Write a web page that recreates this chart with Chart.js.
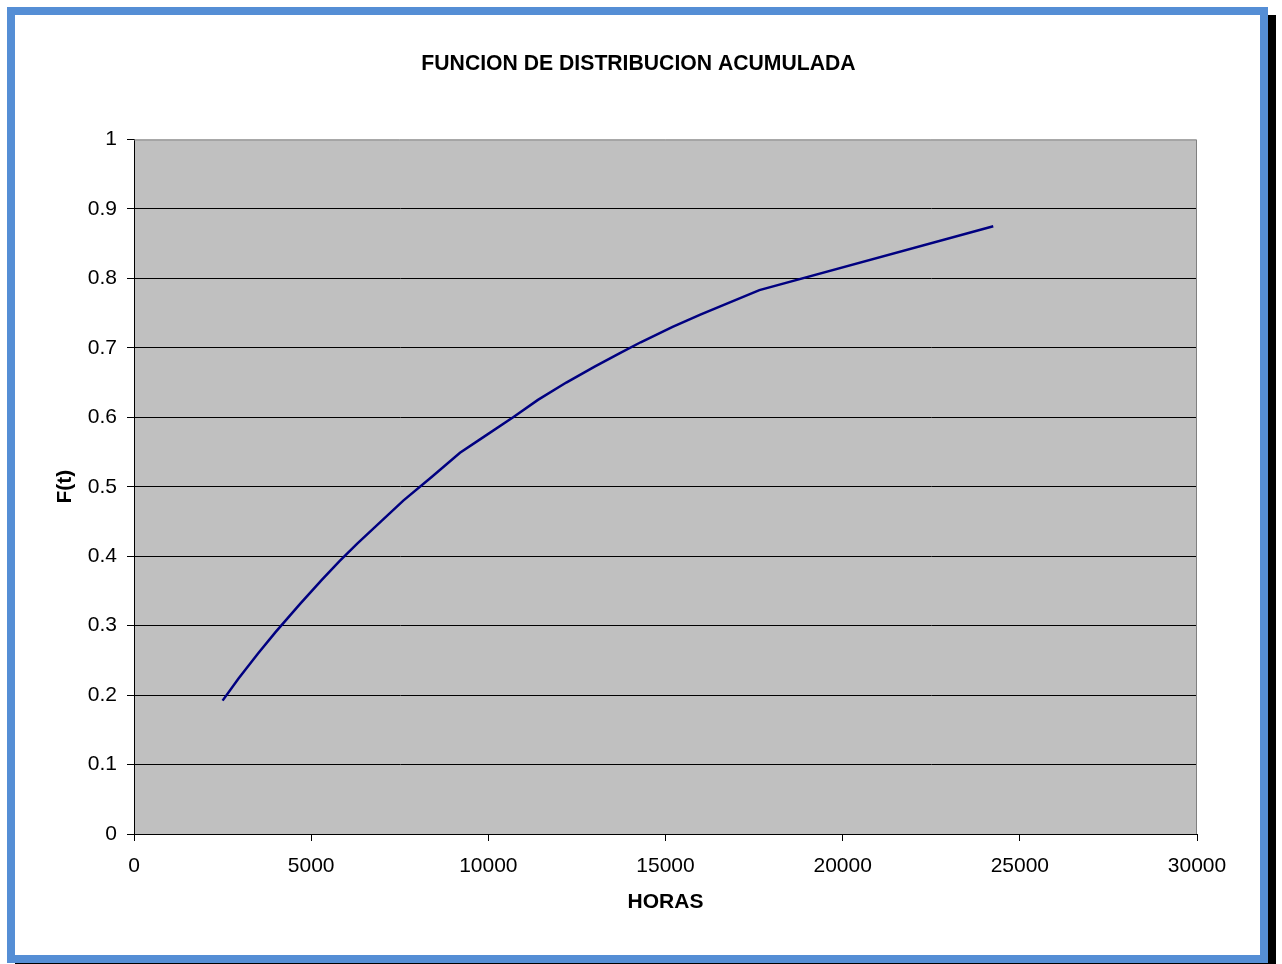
<!DOCTYPE html>
<html>
<head>
<meta charset="utf-8">
<title>FUNCION DE DISTRIBUCION ACUMULADA</title>
<script src="https://cdn.jsdelivr.net/npm/chart.js@4.4.1/dist/chart.umd.min.js"></script>
<style>
  html, body { margin: 0; padding: 0; background: #ffffff; }
  #wrap { position: relative; width: 1282px; height: 964px; overflow: hidden; }
  #frame {
    position: absolute; left: 7px; top: 7px;
    width: 1245px; height: 940px;
    border: 8px solid #558ed5;
    box-shadow: 8px 8px 0 #000000;
    background: #ffffff;
  }
  #chart { position: absolute; left: 0; top: 0; }
</style>
</head>
<body>
<div id="wrap">
  <div id="frame"></div>
  <canvas id="chart" width="1282" height="964"></canvas>
</div>
<script>
// Operating hours and the cumulative failure probability F(t) at each
const horas = [2500, 2950, 3500, 4000, 4700, 5300, 5800, 6300, 6950, 7600, 8400, 9200,
               9850, 10700, 11400, 12200, 13000, 13700, 14300, 15200, 16000, 16800, 17650, 24250];
const ft    = [0.192, 0.224, 0.260, 0.291, 0.332, 0.366, 0.393, 0.418, 0.449, 0.480, 0.514, 0.549,
               0.571, 0.600, 0.625, 0.650, 0.673, 0.692, 0.708, 0.730, 0.748, 0.765, 0.783, 0.875];

// Axis ticks
const xTicks = [0, 5000, 10000, 15000, 20000, 25000, 30000];
const yTicks = [0, 0.1, 0.2, 0.3, 0.4, 0.5, 0.6, 0.7, 0.8, 0.9, 1];

const FONT = "'Liberation Sans', Arial, 'DejaVu Sans', sans-serif";

// Gray plot background and the gray top / right border of the plot
const plotArea = {
  id: 'plotArea',
  beforeDraw(chart) {
    const { ctx, chartArea: a } = chart;
    ctx.save();
    ctx.fillStyle = '#c0c0c0';
    ctx.fillRect(a.left, a.top, a.right - a.left, a.bottom - a.top);
    ctx.restore();
  },
  afterDatasetsDraw(chart) {
    const { ctx, chartArea: a } = chart;
    ctx.save();
    ctx.strokeStyle = '#808080';
    ctx.lineWidth = 1;
    ctx.beginPath();
    ctx.moveTo(a.left, a.top + 0.5);
    ctx.lineTo(a.right - 0.5, a.top + 0.5);
    ctx.lineTo(a.right - 0.5, a.bottom);
    ctx.stroke();
    ctx.restore();
  }
};

new Chart(document.getElementById('chart'), {
  type: 'line',
  data: {
    datasets: [{
      label: 'F(t)',
      data: horas.map((h, i) => ({ x: h, y: ft[i] })),
      borderColor: '#000080',
      borderWidth: 2.5,
      pointRadius: 0,
      tension: 0,
      fill: false
    }]
  },
  options: {
    responsive: false,
    animation: false,
    layout: { padding: { left: 0, right: 5, top: 0, bottom: 45 } },
    plugins: {
      legend: { display: false },
      tooltip: { enabled: false },
      title: {
        display: true,
        text: 'FUNCION DE DISTRIBUCION ACUMULADA',
        color: '#000000',
        font: { family: FONT, size: 21.2, weight: 'bold', lineHeight: 1.2 },
        padding: { top: 51, bottom: 63 }
      }
    },
    scales: {
      x: {
        type: 'linear',
        min: 0,
        max: 30000,
        afterBuildTicks(scale) { scale.ticks = xTicks.map(v => ({ value: v })); },
        afterFit(scale) { scale.height = 85; },
        ticks: {
          color: '#000000',
          padding: 13,
          maxRotation: 0,
          font: { family: FONT, size: 21 },
          callback: v => String(v)
        },
        grid: {
          drawOnChartArea: false,
          drawTicks: true,
          tickLength: 7,
          color: '#000000',
          tickColor: '#000000'
        },
        border: { display: true, color: '#000000', width: 1 },
        title: {
          display: true,
          text: 'HORAS',
          color: '#000000',
          font: { family: FONT, size: 21, weight: 'bold', lineHeight: 1.2 },
          padding: { top: 4, bottom: 4 }
        }
      },
      y: {
        type: 'linear',
        position: 'left',
        min: 0,
        max: 1,
        afterBuildTicks(scale) { scale.ticks = yTicks.map(v => ({ value: v })); },
        afterFit(scale) { scale.width = 134; },
        ticks: {
          color: '#000000',
          padding: 10,
          font: { family: FONT, size: 21 },
          callback: v => String(v)
        },
        grid: {
          drawOnChartArea: true,
          drawTicks: true,
          tickLength: 7,
          color: ctx => (ctx.tick && ctx.tick.value === 1) ? 'rgba(0,0,0,0)' : '#000000',
          tickColor: '#000000',
          lineWidth: 1
        },
        border: { display: true, color: '#000000', width: 1 },
        title: {
          display: true,
          text: 'F(t)',
          color: '#000000',
          font: { family: FONT, size: 21, weight: 'bold', lineHeight: 1.2 },
          padding: { top: 53, bottom: 0 }
        }
      },
      yRight: {
        type: 'linear',
        position: 'right',
        display: true,
        afterFit(scale) { scale.width = 80; },
        ticks: { display: false },
        grid: { display: false, drawTicks: false },
        border: { display: false }
      }
    }
  },
  plugins: [plotArea]
});
</script>
</body>
</html>
